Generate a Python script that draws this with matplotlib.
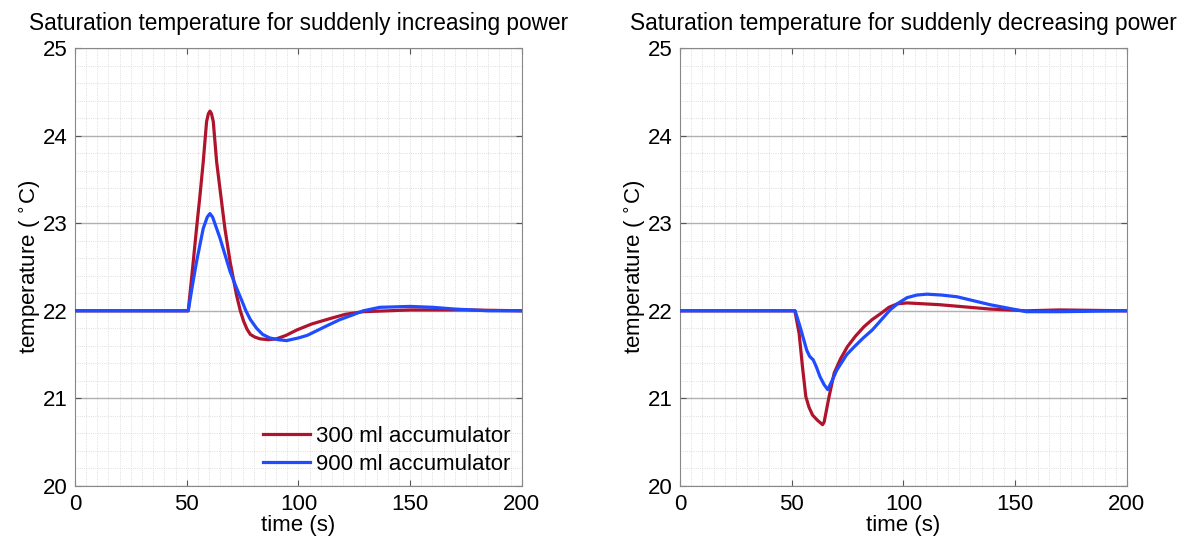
import numpy as np
import matplotlib
matplotlib.use("Agg")
import matplotlib.pyplot as plt
from matplotlib.ticker import MultipleLocator

plt.rcParams['font.family'] = ['Liberation Sans', 'DejaVu Sans']

# suddenly increasing power
inc_t_300 = [0, 50, 50.7, 52.5, 54.4, 56, 57.4, 58.9, 59.7, 60.4, 61.1, 61.9, 63.4, 65.2,
             67.1, 69.5, 72.3, 74, 75.5, 77, 78.5, 80.5, 82.8, 86.5, 90.2, 94.5, 99.2, 106,
             114, 121, 129, 140, 150, 175, 200]
inc_T_300 = [22.0, 22.0, 22.0, 22.45, 22.94, 23.33, 23.70, 24.16, 24.25, 24.28, 24.25, 24.16,
             23.70, 23.33, 22.94, 22.55, 22.18, 22.0, 21.88, 21.79, 21.73, 21.70, 21.68,
             21.67, 21.68, 21.72, 21.78, 21.85, 21.91, 21.96, 21.99, 22.0, 22.01, 22.01, 22.0]
inc_t_900 = [0, 50, 50.7, 52.5, 54.4, 57.4, 59.2, 60.4, 61.6, 64.9, 69.4, 72, 74.6, 76.5,
             78.5, 81.3, 84, 87.2, 91, 94.7, 100, 104, 108, 112, 118.6, 124, 129, 136.5, 150,
             160, 170, 185, 200]
inc_T_900 = [22.0, 22.0, 22.0, 22.28, 22.56, 22.94, 23.07, 23.11, 23.07, 22.83, 22.45, 22.28,
             22.12, 22.0, 21.9, 21.8, 21.73, 21.69, 21.67, 21.66, 21.69, 21.72, 21.77, 21.82,
             21.90, 21.95, 22.0, 22.04, 22.05, 22.04, 22.02, 22.0, 22.0]

# suddenly decreasing power
dec_t_300 = [0, 51.4, 53.3, 54.8, 56.3, 57.7, 59.3, 61.5, 63.8, 64.5, 66.7, 69, 71.8, 74.9,
             78.5, 82.4, 86, 89.9, 93.5, 97.3, 101.6, 116, 138.7, 155, 170, 200]
dec_T_300 = [22.0, 22.0, 21.74, 21.36, 21.02, 20.9, 20.81, 20.75, 20.70, 20.73, 21.02, 21.29,
             21.45, 21.59, 21.71, 21.82, 21.90, 21.97, 22.04, 22.08, 22.09, 22.07, 22.02,
             22.0, 22.01, 22.0]
dec_t_900 = [0, 51.5, 53.7, 56.7, 58, 59.6, 61, 62.6, 64.4, 66.1, 68, 70.1, 74.6, 78, 82,
             86, 89.5, 94, 97.8, 101.6, 106, 110.5, 117, 124, 138.7, 155, 170, 200]
dec_T_900 = [22.0, 22.0, 21.82, 21.55, 21.48, 21.44, 21.36, 21.25, 21.16, 21.10, 21.2, 21.32,
             21.50, 21.59, 21.69, 21.78, 21.88, 22.01, 22.09, 22.15, 22.18, 22.19, 22.18,
             22.16, 22.07, 21.99, 21.99, 22.0]

titles = ['Saturation temperature for suddenly increasing power',
          'Saturation temperature for suddenly decreasing power']
labels = ['300 ml accumulator', '900 ml accumulator']
red = '#b0142c'
blue = '#1f4cff'

fig = plt.figure(figsize=(11.79, 5.38), dpi=100)
ax1 = fig.add_axes([0.0636, 0.0967, 0.379, 0.814])
ax2 = fig.add_axes([0.5768, 0.0967, 0.379, 0.814])

data = [(inc_t_300, inc_T_300, inc_t_900, inc_T_900),
        (dec_t_300, dec_T_300, dec_t_900, dec_T_900)]

for ax, title, (t3, T3, t9, T9) in zip([ax1, ax2], titles, data):
    ax.plot(t3, T3, color=red, lw=2.3, label=labels[0], zorder=3,
            solid_joinstyle='round')
    ax.plot(t9, T9, color=blue, lw=2.3, label=labels[1], zorder=4,
            solid_joinstyle='round')
    ax.set_xlim(0, 200)
    ax.set_ylim(20, 25)
    ax.xaxis.set_major_locator(MultipleLocator(50))
    ax.yaxis.set_major_locator(MultipleLocator(1))
    ax.xaxis.set_minor_locator(MultipleLocator(5))
    ax.yaxis.set_minor_locator(MultipleLocator(0.2))
    ax.grid(which='minor', color='#d4d4d4', lw=0.6, ls=':')
    ax.grid(which='major', axis='y', color='#b0b0b0', lw=1.0)
    ax.grid(which='major', axis='x', color='#d4d4d4', lw=0.6, ls=':')
    ax.set_axisbelow(True)
    ax.tick_params(which='major', direction='in', top=True, right=True, length=4,
                   labelsize=16, color='#555555')
    ax.tick_params(axis='x', which='major', pad=6)
    ax.tick_params(axis='y', which='major', pad=5)
    ax.tick_params(which='minor', length=0)
    for s in ax.spines.values():
        s.set_color('#888888')
    ax.set_title(title, fontsize=16.3, pad=13)
    ax.set_xlabel('time (s)', fontsize=16, labelpad=0)
    ax.set_ylabel('temperature ( $^{\\circ}$C)', fontsize=16, labelpad=0)

ax1.legend(loc='lower right', frameon=False, fontsize=16, handlelength=2.1,
           borderaxespad=0.1, labelspacing=0.3, handletextpad=0.3)

fig.savefig('out.png', dpi=100)
